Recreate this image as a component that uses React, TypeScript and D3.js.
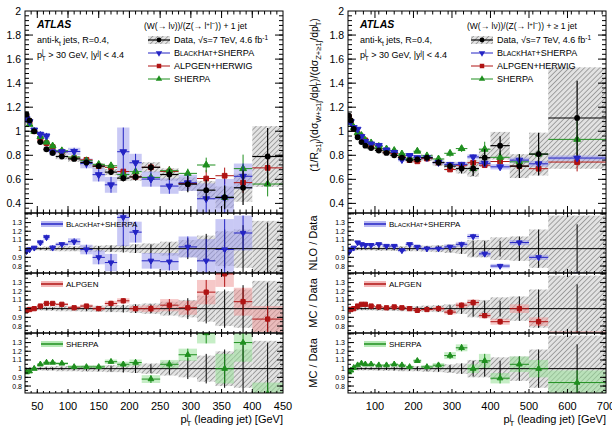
import React from "react";
import * as d3 from "d3";

const FONT = "'Liberation Sans', Arial, Helvetica, sans-serif";

// leading-jet pT bin edges [GeV]
const edgesOne = [30, 35, 40, 50, 60, 70, 80, 100, 120, 140, 160, 180, 200, 220, 250, 280, 310, 340, 370, 400, 450];
const edgesIncl = [30, 35, 40, 50, 60, 70, 80, 100, 120, 140, 160, 180, 200, 220, 250, 280, 310, 340, 370, 400, 450, 500, 550, 700];

// W/Z ratio, exactly one jet
const dataOne = [1.14, 1.09, 1.0, 0.91, 0.85, 0.82, 0.79, 0.77, 0.74, 0.71, 0.66, 0.61, 0.62, 0.7, 0.64, 0.56, 0.51, 0.45, 0.53, 0.79];
const statOne = [0.01, 0.01, 0.01, 0.01, 0.012, 0.015, 0.015, 0.02, 0.025, 0.03, 0.035, 0.045, 0.05, 0.05, 0.07, 0.12, 0.17, 0.22, 0.27, 0.3];
const sysOne = [0.02, 0.02, 0.02, 0.02, 0.025, 0.025, 0.03, 0.03, 0.035, 0.035, 0.04, 0.04, 0.05, 0.06, 0.08, 0.1, 0.15, 0.2, 0.22, 0.32];
const bhOne = [0.97, 0.99, 1.01, 1.07, 1.13, 1.01, 1.05, 1.08, 0.99, 0.9, 0.84, 1.36, 1.19, 0.86, 0.85, 1.02, 0.86, 0.99, 1.18, null];
const bhErrOne = [0.02, 0.02, 0.02, 0.03, 0.03, 0.03, 0.02, 0.04, 0.055, 0.08, 0.1, 0.33, 0.12, 0.09, 0.1, 0.12, 0.25, 0.35, 0.2, 0];
const alpOne = [0.98, 0.99, 1.0, 1.03, 1.06, 1.06, 1.05, 1.01, 1.03, 1.0, 1.06, 1.09, 1.0, 1.0, 1.04, 1.01, 1.19, 1.4, 1.08, 0.88];
const alpErrOne = [0.015, 0.015, 0.015, 0.015, 0.015, 0.015, 0.015, 0.02, 0.02, 0.02, 0.03, 0.03, 0.03, 0.04, 0.07, 0.08, 0.14, 0.15, 0.16, 0.15];
const shOne = [0.96, 0.97, 1.0, 1.05, 1.07, 1.07, 1.06, 1.02, 1.02, 1.02, 1.08, 1.05, 1.07, 0.88, 1.05, 1.16, 1.41, 1.0, 1.3, 0.71];
const shErrOne = [0.015, 0.015, 0.015, 0.015, 0.015, 0.015, 0.015, 0.02, 0.02, 0.02, 0.025, 0.03, 0.035, 0.045, 0.05, 0.07, 0.12, 0.17, 0.22, 0.13];

// W/Z ratio, at least one jet
const dataIncl = [1.13, 1.09, 1.02, 0.95, 0.91, 0.88, 0.86, 0.84, 0.82, 0.8, 0.78, 0.76, 0.765, 0.78, 0.74, 0.71, 0.69, 0.69, 0.78, 0.88, 0.71, 0.81, 1.11];
const statIncl = [0.01, 0.01, 0.01, 0.01, 0.01, 0.01, 0.012, 0.015, 0.015, 0.02, 0.02, 0.025, 0.025, 0.03, 0.035, 0.04, 0.06, 0.09, 0.09, 0.09, 0.14, 0.22, 0.28];
const sysIncl = [0.02, 0.02, 0.02, 0.02, 0.02, 0.02, 0.02, 0.025, 0.025, 0.025, 0.03, 0.03, 0.03, 0.035, 0.04, 0.05, 0.06, 0.1, 0.1, 0.13, 0.14, 0.22, 0.38];
const bhIncl = [0.96, 0.99, 1.01, 1.07, 1.05, 1.04, 1.04, 1.05, 1.03, 1.03, 0.98, 1.05, 1.02, 1.0, 1.0, 1.02, 1.05, 1.14, 0.94, 0.8, 1.07, 0.9, 0.7];
const bhErrIncl = [0.015, 0.015, 0.015, 0.015, 0.015, 0.015, 0.015, 0.015, 0.015, 0.02, 0.02, 0.02, 0.02, 0.02, 0.02, 0.025, 0.03, 0.03, 0.03, 0.025, 0.03, 0.03, 0.02];
const alpIncl = [0.99, 0.99, 1.0, 1.03, 1.05, 1.05, 1.03, 1.02, 1.01, 1.02, 1.01, 1.0, 0.98, 0.99, 1.0, 0.96, 1.04, 1.07, 0.92, 0.85, 1.0, 0.85, 0.67];
const alpErrIncl = [0.01, 0.01, 0.01, 0.01, 0.01, 0.01, 0.01, 0.01, 0.01, 0.01, 0.015, 0.015, 0.015, 0.015, 0.02, 0.025, 0.03, 0.035, 0.03, 0.035, 0.05, 0.05, 0.07];
const shIncl = [0.96, 0.98, 1.01, 1.04, 1.06, 1.05, 1.05, 1.04, 1.04, 1.05, 1.04, 1.02, 1.09, 1.02, 1.04, 1.15, 1.24, 1.0, 1.09, 0.89, 1.05, 1.0, 0.84];
const shErrIncl = [0.01, 0.01, 0.01, 0.01, 0.01, 0.01, 0.01, 0.01, 0.01, 0.01, 0.01, 0.015, 0.02, 0.02, 0.025, 0.04, 0.04, 0.05, 0.08, 0.06, 0.09, 0.1, 0.14];

const mainYTicks = [0.4, 0.6, 0.8, 1, 1.2, 1.4, 1.6, 1.8, 2];
const ratioYTicks = [0.8, 0.9, 1, 1.1, 1.2, 1.3];
const ticksOne = [50, 100, 150, 200, 250, 300, 350, 400, 450];
const ticksIncl = [100, 200, 300, 400, 500, 600, 700];

const MAIN_TOP = 11;
const MAIN_BOTTOM = 213;
const RATIO_TOPS = [213, 273, 333];
const RATIO_H = 60;

const models = [
  { name: "bh", color: "#2424c4", band: "#9c9cec", symbol: d3.symbolTriangle, rot: 180 },
  { name: "alp", color: "#b01414", band: "#ee9a9a", symbol: d3.symbolSquare, rot: 0 },
  { name: "sh", color: "#1f8f1f", band: "#98e098", symbol: d3.symbolTriangle, rot: 0 },
];

type Part = string | { sub?: string; sup?: string; sc?: string; ss?: [string, string] };

// tspans for sub/superscripts and small caps
function rich(parts: Part[], fs: number) {
  let off = 0;
  const out: React.ReactNode[] = [];
  parts.forEach((p, i) => {
    if (typeof p === "string") {
      out.push(<tspan key={i} dy={-off} fontSize={fs}>{p}</tspan>);
      off = 0;
    } else if (p.sub !== undefined) {
      const d = 0.28 * fs;
      out.push(<tspan key={i} dy={d - off} fontSize={0.72 * fs}>{p.sub}</tspan>);
      off = d;
    } else if (p.sup !== undefined) {
      const d = -0.38 * fs;
      out.push(<tspan key={i} dy={d - off} fontSize={0.72 * fs}>{p.sup}</tspan>);
      off = d;
    } else if (p.sc !== undefined) {
      out.push(<tspan key={i} dy={-off} fontSize={0.76 * fs}>{p.sc}</tspan>);
      off = 0;
    } else if (p.ss) {
      const up = -0.4 * fs;
      const dn = 0.28 * fs;
      out.push(<tspan key={i + "a"} dy={up - off} fontSize={0.72 * fs}>{p.ss[1]}</tspan>);
      out.push(<tspan key={i + "b"} dx={-0.18 * fs} dy={dn - up} fontSize={0.72 * fs}>{p.ss[0]}</tspan>);
      off = dn;
    }
  });
  return out;
}

const bhLabel: Part[] = ["B", { sc: "LACK" }, "H", { sc: "AT" }, "+SHERPA"];

function tickPath(
  x: d3.ScaleLinear<number, number>,
  y: d3.ScaleLinear<number, number>,
  xMaj: number[], xMin: number[], yMaj: number[], yMin: number[],
  lx: [number, number], ly: [number, number]
) {
  const [x0, x1] = x.range();
  const [y1, y0] = y.range();
  let d = "";
  const xs = (vals: number[], len: number) => {
    vals.forEach((v) => {
      const px = x(v);
      if (px <= x0 + 0.5 || px >= x1 - 0.5) return;
      d += `M${px},${y1}v${-len}M${px},${y0}v${len}`;
    });
  };
  const ys = (vals: number[], len: number) => {
    vals.forEach((v) => {
      const py = y(v);
      if (py <= y0 + 0.5 || py >= y1 - 0.5) return;
      d += `M${x0},${py}h${len}M${x1},${py}h${-len}`;
    });
  };
  xs(xMaj, lx[0]);
  xs(xMin, lx[1]);
  ys(yMaj, ly[0]);
  ys(yMin, ly[1]);
  return d;
}

type PanelProps = {
  id: string;
  left: number;
  right: number;
  xMax: number;
  xTicks: number[];
  xMinorStep: number;
  edges: number[];
  data: number[];
  stat: number[];
  sys: number[];
  ratios: (number | null)[][];
  ratioErrs: number[][];
  jetLabel: string;
  yTitles: boolean;
};

function Panel(p: PanelProps) {
  const x = d3.scaleLinear().domain([30, p.xMax]).range([p.left, p.right]);
  const yM = d3.scaleLinear().domain([0.32, 2]).range([MAIN_BOTTOM, MAIN_TOP]);
  const bins = p.data.map((d, i) => ({
    i,
    d,
    x0: x(p.edges[i]),
    x1: x(p.edges[i + 1]),
    xc: x((p.edges[i] + p.edges[i + 1]) / 2),
    stat: p.stat[i],
    sys: p.sys[i],
  }));
  const xMinor = d3.range(30, p.xMax + 0.01, p.xMinorStep);
  const mainMinor = d3.range(0.36, 2.001, 0.04);
  const ratioMinor = d3.range(0.75, 1.41, 0.05);
  const sym = (m: typeof models[number], size: number, cx: number, cy: number, key: string) => (
    <path key={key} d={d3.symbol().type(m.symbol).size(size)() || ""}
      transform={`translate(${cx},${cy}) rotate(${m.rot})`} fill={m.color} />
  );
  const legX = p.left + 123;
  const legRows = [40, 53, 66, 79];

  return (
    <g fontFamily={FONT}>
      <defs>
        <clipPath id={`${p.id}-main`}>
          <rect x={p.left} y={MAIN_TOP} width={p.right - p.left} height={MAIN_BOTTOM - MAIN_TOP} />
        </clipPath>
        {RATIO_TOPS.map((t, k) => (
          <clipPath key={k} id={`${p.id}-r${k}`}>
            <rect x={p.left} y={t} width={p.right - p.left} height={RATIO_H} />
          </clipPath>
        ))}
      </defs>

      {/* main ratio plot */}
      <g clipPath={`url(#${p.id}-main)`}>
        {bins.map((b) => (
          <rect key={`h${b.i}`} x={b.x0} width={b.x1 - b.x0}
            y={yM(b.d * (1 + b.sys))} height={yM(b.d * (1 - b.sys)) - yM(b.d * (1 + b.sys))}
            fill="url(#hatch)" />
        ))}
        {bins.map((b) => {
          const r = p.ratios[0][b.i];
          if (r == null) return null;
          const e = p.ratioErrs[0][b.i];
          return (
            <rect key={`bb${b.i}`} x={b.x0} width={b.x1 - b.x0}
              y={yM(b.d * (r + e))} height={yM(b.d * (r - e)) - yM(b.d * (r + e))}
              fill={models[0].band} fillOpacity={0.55} />
          );
        })}
        {[1, 2, 0].map((k) => {
          const m = models[k];
          return bins.map((b) => {
            const r = p.ratios[k][b.i];
            if (r == null) return null;
            const e = p.ratioErrs[k][b.i];
            const cy = yM(b.d * r);
            return (
              <g key={`m${k}-${b.i}`} stroke={m.color} strokeWidth={1}>
                <line x1={b.x0} x2={b.x1} y1={cy} y2={cy} />
                <line x1={b.xc} x2={b.xc} y1={yM(b.d * (r - e))} y2={yM(b.d * (r + e))} />
                {sym(m, k === 1 ? 22 : 20, b.xc, cy, "s")}
              </g>
            );
          });
        })}
        {bins.map((b) => (
          <g key={`d${b.i}`} stroke="#000" strokeWidth={1.2}>
            <line x1={b.x0} x2={b.x1} y1={yM(b.d)} y2={yM(b.d)} />
            <line x1={b.xc} x2={b.xc} y1={yM(b.d * (1 - b.stat))} y2={yM(b.d * (1 + b.stat))} />
            <circle cx={b.xc} cy={yM(b.d)} r={2.9} fill="#000" stroke="none" />
          </g>
        ))}
      </g>
      <rect x={p.left} y={MAIN_TOP} width={p.right - p.left} height={MAIN_BOTTOM - MAIN_TOP}
        fill="none" stroke="#000" strokeWidth={1} />
      <path d={tickPath(x, yM, p.xTicks, xMinor, mainYTicks, mainMinor, [7, 3.5], [8, 4])}
        stroke="#000" strokeWidth={1} fill="none" />
      {mainYTicks.map((v) => (
        <text key={v} x={p.left - 4} y={yM(v)} textAnchor="end" dominantBaseline="central" fontSize={10.5}>
          {String(Math.round(v * 10) / 10)}
        </text>
      ))}

      {/* labels */}
      <text x={p.left + 12} y={28} fontSize={10.5} fontWeight="bold" fontStyle="italic">ATLAS</text>
      <text x={p.left + 12} y={43} fontSize={9}>{rich(["anti-k", { sub: "t" }, " jets, R=0.4,"], 9)}</text>
      <text x={p.left + 12} y={58} fontSize={9}>
        {rich(["p", { ss: ["T", "j"] }, " > 30 GeV, |y", { sup: "j" }, "| < 4.4"], 9)}
      </text>

      <text x={p.left + 119} y={29} fontSize={8.5}>
        {rich(["(W(→ lν))/(Z(→ l", { sup: "+" }, "l", { sup: "−" }, ")) + " + p.jetLabel], 8.5)}
      </text>
      <rect x={legX} y={legRows[0] - 4} width={22} height={8} fill="url(#hatch)" />
      <line x1={legX} x2={legX + 22} y1={legRows[0]} y2={legRows[0]} stroke="#000" strokeWidth={1.2} />
      <circle cx={legX + 11} cy={legRows[0]} r={2.4} />
      <text x={legX + 26} y={legRows[0] + 3.2} fontSize={9}>
        {rich(["Data, √s=7 TeV, 4.6 fb", { sup: "-1" }], 9)}
      </text>
      {models.map((m, k) => (
        <g key={m.name}>
          <line x1={legX} x2={legX + 22} y1={legRows[k + 1]} y2={legRows[k + 1]} stroke={m.color} strokeWidth={1} />
          {sym(m, k === 1 ? 20 : 18, legX + 11, legRows[k + 1], "l")}
          <text x={legX + 26} y={legRows[k + 1] + 3.2} fontSize={9}>
            {k === 0 ? rich(bhLabel, 9) : k === 1 ? "ALPGEN+HERWIG" : "SHERPA"}
          </text>
        </g>
      ))}

      {/* model / data panels */}
      {RATIO_TOPS.map((top, k) => {
        const m = models[k];
        const yR = d3.scaleLinear().domain([0.72, 1.41]).range([top + RATIO_H, top]);
        return (
          <g key={k}>
            <g clipPath={`url(#${p.id}-r${k})`}>
              {bins.map((b) => (
                <rect key={`h${b.i}`} x={b.x0} width={b.x1 - b.x0} y={yR(1 + b.sys)}
                  height={yR(1 - b.sys) - yR(1 + b.sys)} fill="url(#hatch)" />
              ))}
              {bins.map((b) => {
                const r = p.ratios[k][b.i];
                if (r == null) return null;
                const e = p.ratioErrs[k][b.i];
                return (
                  <rect key={`b${b.i}`} x={b.x0} width={b.x1 - b.x0} y={yR(r + e)}
                    height={yR(r - e) - yR(r + e)} fill={m.band} fillOpacity={0.55} />
                );
              })}
              <line x1={p.left} x2={p.right} y1={yR(1)} y2={yR(1)} stroke="#000" strokeWidth={1} />
              {bins.map((b) => (
                <line key={`s${b.i}`} x1={b.xc} x2={b.xc} y1={yR(1 - b.stat)} y2={yR(1 + b.stat)}
                  stroke="#000" strokeWidth={1} />
              ))}
              {bins.map((b) => {
                const r = p.ratios[k][b.i];
                if (r == null) return null;
                const e = p.ratioErrs[k][b.i];
                return (
                  <g key={`m${b.i}`} stroke={m.color} strokeWidth={1}>
                    <line x1={b.x0} x2={b.x1} y1={yR(r)} y2={yR(r)} />
                    <line x1={b.xc} x2={b.xc} y1={yR(r - e)} y2={yR(r + e)} />
                    {sym(m, k === 1 ? 18 : 14, b.xc, yR(r), "s")}
                  </g>
                );
              })}
            </g>
            <rect x={p.left} y={top} width={p.right - p.left} height={RATIO_H}
              fill="none" stroke="#000" strokeWidth={1} />
            <path d={tickPath(x, yR, p.xTicks, xMinor, ratioYTicks.concat([1.4]), ratioMinor, [4, 2], [6, 3])}
              stroke="#000" strokeWidth={1} fill="none" />
            {ratioYTicks.map((v) => (
              <text key={v} x={p.left - 3} y={yR(v)} textAnchor="end" dominantBaseline="central" fontSize={7}>
                {String(Math.round(v * 10) / 10)}
              </text>
            ))}
            <rect x={p.left + 16} y={top + 8} width={22} height={6} fill={m.band} fillOpacity={0.7} />
            <line x1={p.left + 16} x2={p.left + 38} y1={top + 11} y2={top + 11} stroke={m.color} strokeWidth={1.5} />
            <text x={p.left + 41} y={top + 14} fontSize={8}>
              {k === 0 ? rich(bhLabel, 8) : k === 1 ? "ALPGEN" : "SHERPA"}
            </text>
            {p.yTitles && (
              <text transform={`translate(${p.left - 31},${top + RATIO_H / 2}) rotate(-90)`}
                textAnchor="middle" fontSize={11}>
                {k === 0 ? "NLO / Data" : "MC / Data"}
              </text>
            )}
          </g>
        );
      })}

      {p.xTicks.map((v) => (
        <text key={v} x={x(v)} y={RATIO_TOPS[2] + RATIO_H + 13} textAnchor="middle"
          dominantBaseline="central" fontSize={11}>
          {v}
        </text>
      ))}
      <text x={p.right} y={423} textAnchor="end" fontSize={11}>
        {rich(["p", { ss: ["T", "j"] }, " (leading jet) [GeV]"], 11)}
      </text>

      {p.yTitles && (
        <text transform={`translate(${p.left - 30},${95}) rotate(-90)`} textAnchor="middle" fontSize={10.5}>
          {rich([
            "(1/R", { sub: "≥1j" }, ")(dσ", { sub: "W+≥1j" }, "/dp", { ss: ["T", "j"] },
            ")/(dσ", { sub: "Z+≥1j" }, "/dp", { ss: ["T", "j"] }, ")",
          ], 10.5)}
        </text>
      )}
    </g>
  );
}

export default function App() {
  return (
    <svg width={612} height={436} style={{ position: "absolute", left: 0, top: 0, background: "#fff" }}>
      <defs>
        <pattern id="hatch" width={3.6} height={3.6} patternUnits="userSpaceOnUse" patternTransform="rotate(45)">
          <rect width={3.6} height={3.6} fill="#e2e2e2" />
          <line x1={0} y1={0} x2={0} y2={3.6} stroke="#767676" strokeWidth={1.2} />
        </pattern>
      </defs>
      <Panel id="one" left={25} right={283} xMax={450} xTicks={ticksOne} xMinorStep={10}
        edges={edgesOne} data={dataOne} stat={statOne} sys={sysOne}
        ratios={[bhOne, alpOne, shOne]} ratioErrs={[bhErrOne, alpErrOne, shErrOne]}
        jetLabel="1 jet" yTitles={false} />
      <Panel id="incl" left={348} right={606} xMax={700} xTicks={ticksIncl} xMinorStep={20}
        edges={edgesIncl} data={dataIncl} stat={statIncl} sys={sysIncl}
        ratios={[bhIncl, alpIncl, shIncl]} ratioErrs={[bhErrIncl, alpErrIncl, shErrIncl]}
        jetLabel="≥ 1 jet" yTitles={true} />
    </svg>
  );
}
